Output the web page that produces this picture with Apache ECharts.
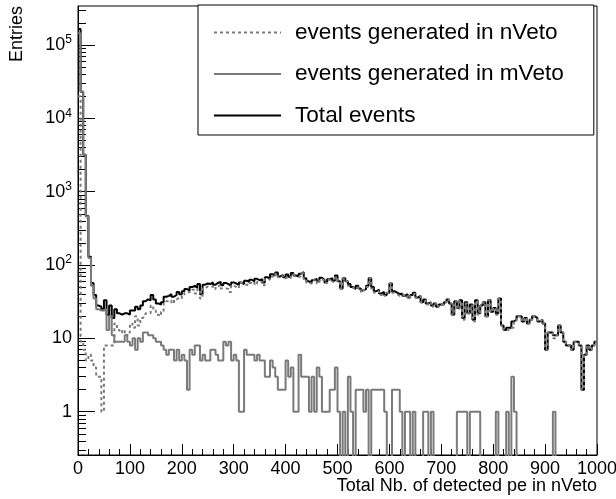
<!DOCTYPE html>
<html><head><meta charset="utf-8">
<script src="https://cdn.jsdelivr.net/npm/echarts@6/dist/echarts.min.js"></script>
<style>html,body{margin:0;padding:0;background:#fff}#c{width:616px;height:499px}</style>
</head><body><div id="c"></div>
<script>
// Histogram binning: 200 bins of width 5 from 0 to 1000
const binLow = 0;
const binWidth = 5;

const seriesNames = ['events generated in nVeto', 'events generated in mVeto', 'Total events'];
const xAxisTitle = 'Total Nb. of detected pe in nVeto';
const yAxisTitle = 'Entries';

const totalEvents = [
165000,23000,3200,465,130,57,39,28,27,25,
33,21,28,19,25,22,21,22,22,21,
24,24,27,25,28,32,34,33,39,34,
30,29,31,37,38,40,37,39,43,40,
44,47,45,50,52,49,55,40,54,56,
55,58,54,57,59,53,57,55,52,58,
56,53,58,55,61,59,63,60,65,62,
64,58,68,66,75,72,79,70,73,68,
74,69,78,72,70,76,80,66,60,57,
62,65,60,67,63,58,64,66,61,72,
60,48,66,60,55,50,47,52,48,45,
47,52,66,50,44,46,41,43,39,42,
56,44,42,40,41,38,40,36,39,42,
36,38,31,34,30,31,28,30,27,29,
29,31,34,30,21,32,26,33,19,31,
22,29,18,33,22,28,31,20,33,23,
26,22,35,15,13,14,14,17,18,20,
20,17,19,16,18,20,19,17,18,16,
7,12,12,11,11,15,12,9,8,8,
7,9,9,8,2,6,8,7,8,9];

const mVetoEvents = [
145000,23000,3200,460,125,52,35,25,24,24,
25,13,20,11,9,9,9,9,11,9,
8,10,7,10,9,12,12,11,11,10,
9,9,8,7,6,7,7,5,7,5,
6,5,2,7,6,8,8,5,6,5,
5,7,7,6,5,5,9,8,9,5,
6,5,1,1,7,6,6,6,5,6,
5,5,3,3,5,4,3,2,2,2,
5,3,4,1,1,6,3,3,3,1,
3,1,4,3,1,1,1,2,2,4,
1,0,1,0,3,1,0,2,2,2,
1,2,0,2,2,2,2,2,1,0,
0,2,2,2,1,0,1,1,0,1,
0,0,0,1,1,0,1,0,0,0,
0,0,0,0,0,0,1,1,1,1,
0,1,1,1,1,0,0,0,0,0,
0,1,0,0,0,1,0,3,1,0,
0,0,0,0,0,0,0,0,0,0,
0,0,0,1,0,0,0,0,0,0,
0,0,0,0,0,0,0,0,0,0];

const nVetoEvents = [
20000,9,7,5,6,5,4,3,3,1,
8,8,8,8,16,13,12,13,11,12,
16,14,20,15,19,20,22,22,28,24,
21,20,23,30,32,33,30,34,36,35,
38,42,43,43,46,41,47,35,48,51,
50,51,47,51,54,48,48,47,43,53,
50,48,57,54,54,53,57,54,60,56,
59,53,65,63,70,68,76,68,71,66,
69,66,74,71,69,70,77,63,57,56,
59,64,56,64,62,57,63,64,59,68,
59,48,65,60,52,49,47,50,46,43,
46,50,66,48,42,44,39,41,38,42,
56,42,40,38,40,38,39,35,39,41,
36,38,31,33,29,31,27,30,27,29,
29,31,34,30,21,32,25,32,18,30,
22,28,17,32,21,28,31,20,33,23,
26,21,35,15,13,13,14,14,17,20,
20,17,19,16,18,20,19,17,18,16,
7,12,12,10,11,15,12,9,8,8,
7,9,9,8,2,6,8,7,8,9];

const xTickValues = [0,100,200,300,400,500,600,700,800,900,1000];
const yMajorTicks = [1,10,100,1000,10000,100000];
const yMin = 0.257, yMax = 340000;

// minor log ticks 2..9 x decade inside range
const yMinorTicks = [];
[0.1,1,10,100,1000,10000,100000].forEach(d => {
  for (let k = 2; k <= 9; k++) { const v = +(k*d).toPrecision(3); if (v > yMin && v < yMax) yMinorTicks.push(v); }
});

const FONT = '"Liberation Sans", Arial, Helvetica, sans-serif';
const zeroFloor = 0.01; // empty bins drop below the frame

function histPoints(vals) {
  const pts = vals.map((v, i) => [binLow + i*binWidth, v > 0 ? v : zeroFloor]);
  const last = vals[vals.length-1];
  pts.push([binLow + vals.length*binWidth, last > 0 ? last : zeroFloor]);
  return pts;
}

const chart = echarts.init(document.getElementById('c'), null, {renderer:'canvas'});
chart.setOption({
  animation: false,
  backgroundColor: '#fff',
  title: {
    text: xAxisTitle, right: 19, top: 477, padding: 0,
    textStyle: {fontSize: 18, fontWeight: 'normal', color: '#000', fontFamily: FONT}
  },
  grid: {left: 78, right: 19, top: 6, bottom: 44, show: true, borderColor: '#000', borderWidth: 1, backgroundColor: 'transparent', containLabel: false, outerBoundsMode: 'none'},
  legend: {
    orient: 'vertical', left: 198, top: 5,
    data: seriesNames,
    itemWidth: 67, itemHeight: 14, itemGap: 18.5,
    padding: [16, 30, 8, 15],
    backgroundColor: '#fff', borderColor: '#000', borderWidth: 1,
    selectedMode: false,
    itemStyle: {opacity: 0},
    textStyle: {fontSize: 22.6, color: '#000', fontFamily: FONT, padding: [0,0,0,9]}
  },
  xAxis: {
    type: 'value', min: 0, max: 1000, interval: 100,
    axisLine: {show: true, lineStyle: {color: '#000', width: 1}},
    axisTick: {show: true, inside: true, length: 11, customValues: xTickValues, lineStyle: {color: '#000'}},
    minorTick: {show: true, splitNumber: 5, length: 6, lineStyle: {color: '#000'}},
    splitLine: {show: false},
    axisLabel: {fontSize: 18, color: '#000', fontFamily: FONT, margin: 5, formatter: v => String(v)}
  },
  yAxis: [{
    type: 'log', min: yMin, max: yMax,
    axisLine: {show: true, lineStyle: {color: '#000', width: 1}},
    axisTick: {show: true, inside: true, length: 17, customValues: yMajorTicks, lineStyle: {color: '#000'}},
    splitLine: {show: false},
    axisLabel: {
      customValues: yMajorTicks, margin: 6, fontSize: 18, color: '#000', fontFamily: FONT,
      formatter: v => { const n = Math.round(Math.log10(v)); if (n === 0) return '1'; if (n === 1) return '10'; return '{b|10}{s|' + n + '}'; },
      rich: {
        b: {fontSize: 18, color: '#000', fontFamily: FONT},
        s: {fontSize: 12, color: '#000', fontFamily: FONT, padding: [0,0,10,0]}
      }
    }
  }, {
    type: 'log', min: yMin, max: yMax, position: 'left',
    axisLine: {show: false},
    axisTick: {show: true, inside: true, length: 8, customValues: yMinorTicks, lineStyle: {color: '#000'}},
    axisLabel: {show: false},
    splitLine: {show: false}
  }],
  graphic: [{
    type: 'text', x: 17, y: 6, rotation: Math.PI/2,
    style: {text: yAxisTitle, font: '18px ' + FONT, fill: '#000', textAlign: 'right', textVerticalAlign: 'middle'}
  }],
  series: [{
    type: 'line', name: 'Total events', step: 'end', symbol: 'none', yAxisIndex: 0,
    data: histPoints(totalEvents),
    lineStyle: {color: '#000', width: 2}, itemStyle: {color: '#000'}, z: 2
  }, {
    type: 'line', name: 'events generated in mVeto', step: 'end', symbol: 'none', yAxisIndex: 0,
    data: histPoints(mVetoEvents),
    lineStyle: {color: '#7a7a7a', width: 2}, itemStyle: {color: '#7a7a7a'}, z: 3
  }, {
    type: 'line', name: 'events generated in nVeto', step: 'end', symbol: 'none', yAxisIndex: 0,
    data: histPoints(nVetoEvents),
    lineStyle: {color: '#7a7a7a', width: 2, type: [3, 3]}, itemStyle: {color: '#7a7a7a'}, z: 4
  }]
});
</script></body></html>
